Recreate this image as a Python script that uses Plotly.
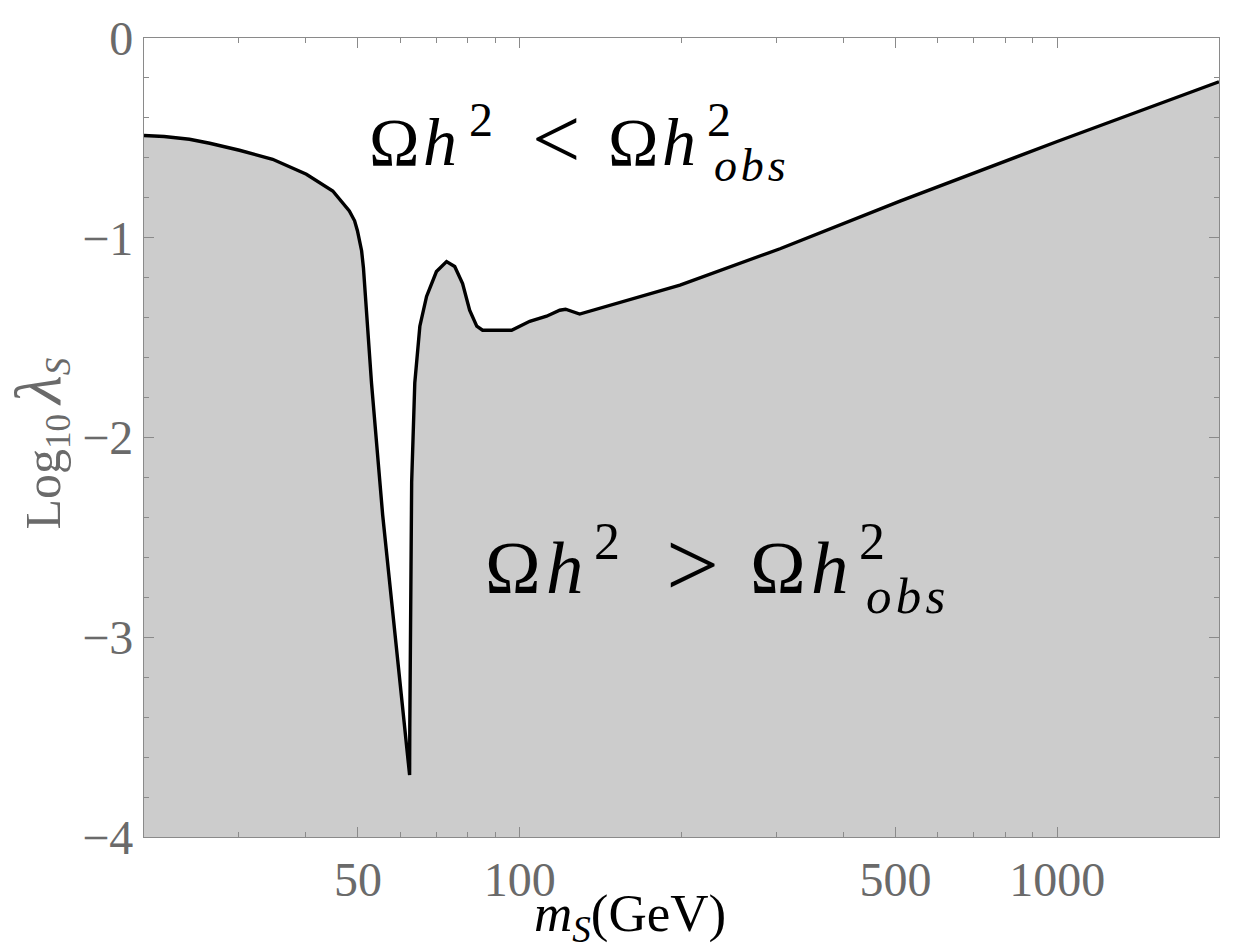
import plotly.graph_objects as go

# Relic-density boundary in the (m_S, log10 lambda_S) plane
m_s = [20, 21.8, 24.3, 26.5, 30.1, 34.7, 40.1, 44.9, 48.2, 49.3, 49.9, 50.8,
       51.2, 51.9, 53.0, 55.6, 59.0, 62.4, 62.45, 62.95, 63.8, 65.2, 67.1,
       70.0, 73.1, 75.7, 78.3, 80.7, 83.2, 85.3, 96.6, 104.4, 112.2, 118.7,
       121.7, 127.6, 129.3, 198.7, 305, 510, 1000, 2000]
log_lambda = [-0.488, -0.493, -0.507, -0.527, -0.562, -0.607, -0.682, -0.766,
              -0.866, -0.915, -0.965, -1.065, -1.15, -1.378, -1.726, -2.388,
              -3.055, -3.69, -3.45, -2.224, -1.726, -1.443, -1.294, -1.169,
              -1.119, -1.144, -1.229, -1.363, -1.443, -1.463, -1.463, -1.418,
              -1.393, -1.363, -1.358, -1.378, -1.382, -1.237, -1.055, -0.817,
              -0.518, -0.219]

x_range = [20, 2000]
y_floor = -4
x_ticks = [50, 100, 500, 1000]
x_minor = [30, 40, 60, 70, 80, 90, 200, 300, 400, 600, 700, 800, 900]
y_ticks = [0, -1, -2, -3, -4]
y_ticktext = ["0", "\u22121", "\u22122", "\u22123", "\u22124"]

FRAME = "#8a8a8a"
LABEL = "#6a6a6a"
SERIF = "Liberation Serif"
DESC = 0.216  # font descent as a fraction of the em size

fig = go.Figure()
fig.add_trace(go.Scatter(x=x_range, y=[y_floor, y_floor], mode="lines",
                         line=dict(width=0), hoverinfo="skip", showlegend=False))
fig.add_trace(go.Scatter(x=m_s, y=log_lambda, mode="lines", fill="tonexty",
                         fillcolor="#cccccc", line=dict(color="black", width=3.4),
                         showlegend=False))

W, H = 1236, 949
L, R, T, B = 144, 17, 33, 112


def px(xp):
    return (xp - L) / (W - L - R)


def py(yp):
    return (H - B - yp) / (H - T - B)


axis_common = dict(showline=True, linecolor=FRAME, linewidth=1.3, mirror="ticks",
                   ticks="inside", ticklen=10, tickwidth=1.2, tickcolor=FRAME,
                   showgrid=False, zeroline=False,
                   tickfont=dict(family=SERIF, size=48, color=LABEL))

fig.update_xaxes(type="log", range=[1.30103, 3.30103], tickmode="array",
                 tickvals=x_ticks, ticktext=[str(v) for v in x_ticks],
                 minor=dict(ticks="inside", ticklen=5, tickwidth=1.2, tickcolor=FRAME,
                            tickmode="array", tickvals=x_minor, showgrid=False),
                 **axis_common)
fig.update_yaxes(range=[-4, 0], tickmode="array", tickvals=y_ticks, ticktext=y_ticktext,
                 minor=dict(ticks="inside", ticklen=5, tickwidth=1.2, tickcolor=FRAME,
                            dtick=0.2, showgrid=False),
                 **axis_common)


def glyph(text, cx, baseline, size, color="black"):
    """Place a text piece by its horizontal centre and its baseline (pixels)."""
    return dict(x=px(cx), y=py(baseline + DESC * size + 1), xanchor="center",
                yanchor="bottom", text=text,
                font=dict(family=SERIF, size=size, color=color))


OBS = "<i>o\u200ab\u200as</i>"
annotations = []

# Omega h^2 < Omega h^2_obs
annotations += [
    glyph("\u03a9", 394, 162, 68),
    glyph("<i>h</i>", 440, 162, 68),
    glyph("2", 481, 132, 48),
    glyph("&lt;", 556, 165, 86),
    glyph("\u03a9", 633, 162, 68),
    glyph("<i>h</i>", 679, 162, 68),
    glyph("2", 719, 132, 48),
    glyph(OBS, 750, 178, 46),
]

# Omega h^2 > Omega h^2_obs
annotations += [
    glyph("\u03a9", 513, 592, 75),
    glyph("<i>h</i>", 565, 592, 75),
    glyph("2", 607, 558, 52),
    glyph("&gt;", 692, 595, 94),
    glyph("\u03a9", 778, 592, 75),
    glyph("<i>h</i>", 830, 592, 75),
    glyph("2", 872, 558, 52),
    glyph(OBS, 905, 613, 51),
]

# axis titles
annotations += [
    glyph("<i>m</i><sub><i>S</i></sub>(GeV)", 630, 940, 53),
    dict(x=px(40), y=py(441), xanchor="center", yanchor="middle", textangle=-90,
         text="Log<sub>10</sub>\u2009<span style='font-size:66px'><i>\u03bb</i></span>"
              "<sub><i>S</i></sub>",
         font=dict(family=SERIF, size=50, color=LABEL)),
]
for a in annotations:
    a.update(xref="paper", yref="paper", showarrow=False)

fig.update_layout(width=W, height=H, margin=dict(l=L, r=R, t=T, b=B),
                  plot_bgcolor="white", paper_bgcolor="white",
                  annotations=annotations)

fig.write_html("out.html")
